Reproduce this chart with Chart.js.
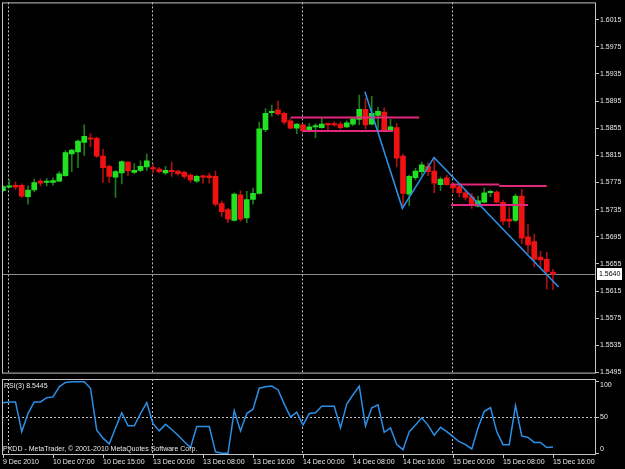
<!DOCTYPE html>
<html>
<head>
<meta charset="utf-8">
<script src="https://cdn.jsdelivr.net/npm/chart.js@4.4.1/dist/chart.umd.min.js"></script>
<style>
  html, body { margin: 0; padding: 0; background: #000; }
  body { width: 625px; height: 469px; position: relative; overflow: hidden; }
  #main { position: absolute; left: 0; top: 0; }
  #rsi { position: absolute; left: 0; top: 376px; }
</style>
</head>
<body>
<canvas id="main" width="625" height="376"></canvas>
<canvas id="rsi" width="625" height="93"></canvas>
<script>
// GBPUSD H1, 9 Dec 23:00 .. 15 Dec 16:00 (bar index 0..88)
const opens = [
  1.5763, 1.5768, 1.5771, 1.5771, 1.5754, 1.5764, 1.5777, 1.5775, 1.5775, 1.5777,
  1.5785, 1.5817, 1.5820, 1.5834, 1.5841, 1.5840, 1.5814, 1.5799, 1.5783, 1.5789,
  1.5805, 1.5790, 1.5793, 1.5798, 1.5797, 1.5795, 1.5789, 1.5793, 1.5792, 1.5790,
  1.5786, 1.5777, 1.5785, 1.5785, 1.5784, 1.5744, 1.5735, 1.5719, 1.5757, 1.5723,
  1.5750, 1.5759, 1.5853, 1.5878, 1.5882, 1.5877, 1.5866, 1.5855, 1.5860, 1.5852,
  1.5857, 1.5856, 1.5862, 1.5862, 1.5861, 1.5857, 1.5861, 1.5868, 1.5883, 1.5861,
  1.5874, 1.5879, 1.5851, 1.5856, 1.5814, 1.5758, 1.5782, 1.5791, 1.5799, 1.5792,
  1.5772, 1.5782, 1.5772, 1.5769, 1.5760, 1.5754, 1.5740, 1.5746, 1.5760, 1.5761,
  1.5746, 1.5721, 1.5719, 1.5755, 1.5695, 1.5688, 1.5665, 1.5662, 1.5643
];
const highs = [
  1.5771, 1.5779, 1.5776, 1.5773, 1.5770, 1.5780, 1.5780, 1.5781, 1.5782, 1.5791,
  1.5822, 1.5824, 1.5838, 1.5860, 1.5847, 1.5842, 1.5824, 1.5801, 1.5793, 1.5807,
  1.5806, 1.5803, 1.5807, 1.5817, 1.5801, 1.5797, 1.5799, 1.5805, 1.5793, 1.5792,
  1.5788, 1.5786, 1.5786, 1.5789, 1.5792, 1.5748, 1.5737, 1.5760, 1.5763, 1.5762,
  1.5767, 1.5864, 1.5884, 1.5889, 1.5895, 1.5879, 1.5868, 1.5862, 1.5861, 1.5862,
  1.5862, 1.5870, 1.5863, 1.5865, 1.5864, 1.5866, 1.5871, 1.5904, 1.5899, 1.5902,
  1.5886, 1.5885, 1.5868, 1.5862, 1.5817, 1.5786, 1.5796, 1.5805, 1.5804, 1.5811,
  1.5783, 1.5786, 1.5775, 1.5771, 1.5764, 1.5759, 1.5755, 1.5767, 1.5764, 1.5763,
  1.5749, 1.5739, 1.5758, 1.5765, 1.5713, 1.5699, 1.5674, 1.5672, 1.5647
];
const lows = [
  1.5762, 1.5767, 1.5765, 1.5753, 1.5743, 1.5761, 1.5770, 1.5770, 1.5771, 1.5776,
  1.5784, 1.5791, 1.5797, 1.5815, 1.5828, 1.5812, 1.5775, 1.5775, 1.5753, 1.5773,
  1.5785, 1.5788, 1.5791, 1.5793, 1.5789, 1.5789, 1.5787, 1.5784, 1.5786, 1.5781,
  1.5775, 1.5775, 1.5774, 1.5774, 1.5740, 1.5725, 1.5716, 1.5718, 1.5718, 1.5716,
  1.5743, 1.5758, 1.5850, 1.5873, 1.5874, 1.5861, 1.5854, 1.5847, 1.5850, 1.5851,
  1.5841, 1.5855, 1.5852, 1.5858, 1.5854, 1.5856, 1.5859, 1.5860, 1.5854, 1.5860,
  1.5852, 1.5851, 1.5850, 1.5798, 1.5741, 1.5741, 1.5779, 1.5786, 1.5785, 1.5760,
  1.5763, 1.5771, 1.5760, 1.5754, 1.5749, 1.5737, 1.5739, 1.5745, 1.5754, 1.5745,
  1.5713, 1.5709, 1.5717, 1.5685, 1.5671, 1.5651, 1.5650, 1.5618, 1.5617
];
const closes = [
  1.5769, 1.5770, 1.5768, 1.5755, 1.5764, 1.5775, 1.5774, 1.5777, 1.5778, 1.5788,
  1.5819, 1.5823, 1.5836, 1.5843, 1.5839, 1.5814, 1.5797, 1.5784, 1.5791, 1.5806,
  1.5792, 1.5793, 1.5799, 1.5807, 1.5795, 1.5791, 1.5793, 1.5791, 1.5788, 1.5784,
  1.5779, 1.5784, 1.5783, 1.5782, 1.5743, 1.5732, 1.5721, 1.5758, 1.5721, 1.5750,
  1.5759, 1.5854, 1.5877, 1.5880, 1.5876, 1.5864, 1.5855, 1.5861, 1.5851, 1.5857,
  1.5859, 1.5861, 1.5860, 1.5860, 1.5856, 1.5863, 1.5869, 1.5883, 1.5860, 1.5877,
  1.5880, 1.5852, 1.5857, 1.5811, 1.5759, 1.5784, 1.5792, 1.5801, 1.5791, 1.5774,
  1.5780, 1.5772, 1.5767, 1.5760, 1.5753, 1.5744, 1.5748, 1.5760, 1.5762, 1.5746,
  1.5718, 1.5718, 1.5755, 1.5693, 1.5683, 1.5662, 1.5661, 1.5644, 1.5640
];
const rsi = [
  70, 71, 71, 30, 55, 71, 71, 77, 78, 92,
  98, 99, 99, 99, 90, 32, 21, 13, 35, 56,
  38, 38, 55, 70, 41, 31, 40, 33, 25, 16,
  8, 37, 37, 37, 2, 0, 0, 59, 31, 55,
  61, 90, 92, 93, 88, 68, 50, 57, 39, 55,
  56, 65, 65, 65, 35, 68, 81, 93, 38, 63,
  67, 29, 35, 12, 5, 30, 39, 49, 39, 25,
  36, 30, 23, 16, 12, 6, 35, 58, 63, 30,
  12, 12, 66, 24, 22, 15, 15, 8, 8.5445
];

// hand-drawn objects on the chart
const trendIdx = [57.9, 63.9, 68.96, 88.9];
const trendPrice = [1.5909, 1.5737, 1.5812, 1.5621];
const levelPrice = [1.5871, 1.5851, 1.5772, 1.5770, 1.5742];
const levelFrom = [46.0, 47.95, 71.7, 79.4, 71.7];
const levelTo = [66.6, 62.4, 79.4, 87.0, 84.0];
const bidPrice = 1.5640;

// axes
const priceTicks = [1.6015, 1.5975, 1.5935, 1.5895, 1.5855, 1.5815, 1.5775,
  1.5735, 1.5695, 1.5655, 1.5615, 1.5575, 1.5535, 1.5495];
const timeIdx = [0, 8, 16, 24, 32, 40, 48, 56, 64, 72, 80, 88];
const timeLabels = ['9 Dec 2010', '10 Dec 07:00', '10 Dec 15:00', '13 Dec 00:00',
  '13 Dec 08:00', '13 Dec 16:00', '14 Dec 00:00', '14 Dec 08:00', '14 Dec 16:00',
  '15 Dec 00:00', '15 Dec 08:00', '15 Dec 16:00'];
const dayIdx = [1, 24, 48, 72];
const rsiTicks = [100, 50, 0];

const xMin = -0.16, xMax = 94.88;
const priceMin = 1.54934, priceMax = 1.60405;
const rsiMin = -2.35, rsiMax = 102.77;

const FONT = 'Liberation Sans';
const TXT = '#e8e8e8';
const FRAME = '#c4c4c4';
Chart.defaults.font.family = FONT;
Chart.defaults.font.size = 7;

const bull = closes.map((c, i) => c >= opens[i]);
const idx = closes.map((c, i) => i);

function drawDays(chart) {
  const { ctx, chartArea: a, scales } = chart;
  ctx.save();
  ctx.strokeStyle = '#bdbdbd';
  ctx.lineWidth = 1;
  ctx.setLineDash([2, 2]);
  dayIdx.forEach((d) => {
    const x = Math.round(scales.x.getPixelForValue(d)) - 0.5;
    ctx.beginPath();
    ctx.moveTo(x, a.top);
    ctx.lineTo(x, a.bottom);
    ctx.stroke();
  });
  ctx.restore();
}

function drawFrame(chart) {
  const { ctx, chartArea: a } = chart;
  ctx.save();
  ctx.strokeStyle = FRAME;
  ctx.lineWidth = 1;
  ctx.strokeRect(a.left + 0.5, a.top + 0.5, a.width - 1, a.height - 1);
  ctx.restore();
}

const mainDecor = {
  id: 'mainDecor',
  beforeDatasetsDraw(chart) {
    drawDays(chart);
    const { ctx, chartArea: a, scales } = chart;
    const y = Math.round(scales.y.getPixelForValue(bidPrice)) + 0.5;
    ctx.save();
    ctx.strokeStyle = '#8c8c8c';
    ctx.beginPath();
    ctx.moveTo(a.left, y);
    ctx.lineTo(a.right, y);
    ctx.stroke();
    ctx.restore();
  },
  afterDraw(chart) {
    drawFrame(chart);
    const { ctx, chartArea: a, scales } = chart;
    const y = Math.round(scales.y.getPixelForValue(bidPrice));
    ctx.save();
    ctx.fillStyle = '#ffffff';
    ctx.fillRect(a.right + 1, y - 6, 25, 12);
    ctx.fillStyle = '#000000';
    ctx.font = `7px "${FONT}"`;
    ctx.textBaseline = 'middle';
    ctx.fillText(bidPrice.toFixed(4), a.right + 3, y);
    ctx.restore();
  },
};

const rsiDecor = {
  id: 'rsiDecor',
  beforeDatasetsDraw(chart) {
    drawDays(chart);
    const { ctx, chartArea: a, scales } = chart;
    const y = Math.round(scales.y.getPixelForValue(50)) + 0.5;
    ctx.save();
    ctx.strokeStyle = '#bdbdbd';
    ctx.setLineDash([2, 2]);
    ctx.beginPath();
    ctx.moveTo(a.left, y);
    ctx.lineTo(a.right, y);
    ctx.stroke();
    ctx.restore();
  },
  afterDraw(chart) {
    drawFrame(chart);
    const { ctx, chartArea: a, scales } = chart;
    ctx.save();
    ctx.font = `7px "${FONT}"`;
    ctx.textBaseline = 'middle';
    ctx.fillStyle = TXT;
    ctx.strokeStyle = FRAME;
    rsiTicks.forEach((v) => {
      const p = scales.y.getPixelForValue(v);
      const ly = Math.min(Math.max(p, a.top + 6), a.bottom - 6);
      ctx.beginPath();
      ctx.moveTo(a.right, Math.round(p) + 0.5);
      ctx.lineTo(a.right + 3, Math.round(p) + 0.5);
      ctx.stroke();
      ctx.fillText(String(v), a.right + 4, ly);
    });
    ctx.fillText('RSI(3) ' + rsi[rsi.length - 1].toFixed(4), a.left + 2, a.top + 7);
    ctx.fillText('PXDD - MetaTrader, \u00a9 2001-2010 MetaQuotes Software Corp.', a.left + 1, a.bottom - 6);
    ctx.restore();
  },
};

const lineDatasets = [
  {
    type: 'line',
    data: trendIdx.map((x, i) => ({ x, y: trendPrice[i] })),
    borderColor: '#2b8fe8',
    borderWidth: 1.6,
    pointRadius: 0,
    order: 0,
  },
  ...levelPrice.map((p, i) => ({
    type: 'line',
    data: [{ x: levelFrom[i], y: p }, { x: levelTo[i], y: p }],
    borderColor: '#e3287c',
    borderWidth: 2,
    pointRadius: 0,
    order: 0,
  })),
];

new Chart(document.getElementById('main'), {
  type: 'bar',
  data: {
    datasets: [
      ...lineDatasets,
      {
        data: idx.map((i) => ({ x: i, y: [opens[i], closes[i]] })),
        backgroundColor: bull.map((b) => (b ? '#22e022' : '#f01212')),
        barThickness: 5,
        minBarLength: 1,
        grouped: false,
        borderWidth: 0,
        order: 1,
      },
      {
        data: idx.map((i) => ({ x: i, y: [lows[i], highs[i]] })),
        backgroundColor: bull.map((b) => (b ? '#1a7f1a' : '#a81212')),
        barThickness: 1,
        grouped: false,
        borderWidth: 0,
        order: 2,
      },
    ],
  },
  options: {
    responsive: false,
    animation: false,
    devicePixelRatio: 1,
    layout: { padding: { top: 2, left: 2, right: 0, bottom: 2 } },
    plugins: { legend: { display: false }, tooltip: { enabled: false } },
    scales: {
      x: { type: 'linear', display: false, offset: false, min: xMin, max: xMax, grid: { offset: false } },
      y: {
        position: 'right',
        min: priceMin,
        max: priceMax,
        afterBuildTicks: (s) => { s.ticks = priceTicks.map((v) => ({ value: v })); },
        afterFit: (s) => { s.width = 29; },
        ticks: { color: TXT, font: { size: 7, lineHeight: 0.4 }, padding: 1, callback: (v) => Number(v).toFixed(4) },
        grid: { drawOnChartArea: false, drawTicks: true, tickLength: 3, color: FRAME },
        border: { display: false },
      },
    },
  },
  plugins: [mainDecor],
});

new Chart(document.getElementById('rsi'), {
  type: 'line',
  data: {
    datasets: [{
      data: idx.map((i) => ({ x: i, y: rsi[i] })),
      borderColor: '#2b8fe8',
      borderWidth: 1.5,
      pointRadius: 0,
    }],
  },
  options: {
    responsive: false,
    animation: false,
    devicePixelRatio: 1,
    layout: { padding: { top: 3, left: 2, right: 0, bottom: 0 } },
    plugins: { legend: { display: false }, tooltip: { enabled: false } },
    scales: {
      x: {
        type: 'linear',
        offset: false,
        min: xMin,
        max: xMax,
        afterBuildTicks: (s) => { s.ticks = timeIdx.map((v) => ({ value: v })); },
        afterFit: (s) => { s.height = 14; },
        ticks: {
          color: TXT, align: 'start', autoSkip: false, maxRotation: 0, padding: 0,
          callback: (v, k) => timeLabels[k],
        },
        grid: { drawOnChartArea: false, drawTicks: true, tickLength: 3, color: FRAME },
        border: { display: false },
      },
      y: {
        position: 'right',
        min: rsiMin,
        max: rsiMax,
        afterFit: (s) => { s.width = 29; },
        ticks: { display: false },
        grid: { display: false },
        border: { display: false },
      },
    },
  },
  plugins: [rsiDecor],
});
</script>
</body>
</html>
